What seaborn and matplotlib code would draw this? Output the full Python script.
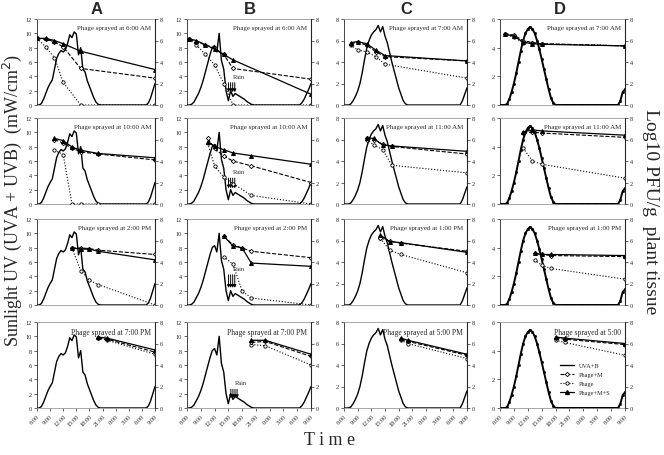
import numpy as np
import seaborn as sns
import matplotlib.pyplot as plt
from matplotlib.lines import Line2D

# Hours since midnight of day 1 (6:00 -> 9:00 next morning), half-hour steps
uv_hours = [6.0, 6.5, 7.0, 7.5, 8.0, 8.5, 9.0, 9.5, 10.0, 10.5, 11.0, 11.5, 12.0, 12.5,
            13.0, 13.5, 14.0, 14.5, 15.0, 15.5, 16.0, 16.5, 17.0, 17.5, 18.0, 18.5, 19.0,
            19.5, 20.0, 20.5, 21.0, 21.5, 22.0, 22.5, 23.0, 23.5, 24.0, 24.5, 25.0, 25.5,
            26.0, 26.5, 27.0, 27.5, 28.0, 28.5, 29.0, 29.5, 30.0, 30.5, 31.0, 31.5, 32.0,
            32.5, 33.0]

# Sunlight UV (mW/cm2) for each column
A_uv = [0, 0, 0.2, 0.8, 1.6, 2.4, 3.0, 3.5, 5.0, 6.5, 7.2, 7.6, 7.4, 7.7, 8.6, 9.8, 9.4,
        10.2, 9.9, 7.0, 8.0, 5.0, 4.6, 3.4, 2.6, 1.8, 1.0, 0.4, 0.1, 0,
        0, 0, 0, 0, 0, 0, 0, 0, 0, 0, 0, 0, 0, 0, 0, 0, 0, 0, 0, 0, 0,
        0.3, 1.0, 2.0, 3.0]
B_uv = [0, 0, 0.1, 0.4, 1.0, 1.6, 2.4, 3.4, 4.6, 5.8, 7.0, 8.0, 8.3, 7.4, 10.0, 6.2, 5.0,
        2.0, 0.6, 2.0, 1.2, 1.6, 1.4, 1.2, 1.0, 0.8, 0.5, 0.3, 0.1, 0,
        0, 0, 0, 0, 0, 0, 0, 0, 0, 0, 0, 0, 0, 0, 0, 0, 0, 0, 0, 0,
        0.3, 0.8, 1.5, 2.2, 3.0]
C_uv = [0, 0, 0, 0.1, 0.4, 0.8, 1.3, 2.0, 3.0, 4.2, 5.3, 6.0, 6.5, 6.8, 7.0, 7.4, 6.8,
        7.3, 6.4, 5.8, 4.9, 4.0, 3.2, 2.4, 1.6, 1.0, 0.4, 0.1, 0,
        0, 0, 0, 0, 0, 0, 0, 0, 0, 0, 0, 0, 0, 0, 0, 0, 0, 0, 0, 0, 0, 0, 0,
        0.4, 1.0, 1.6]
D_uv = [0, 0, 0, 0.05, 0.4, 0.9, 1.5, 2.2, 3.0, 3.8, 4.5, 5.0, 5.3, 5.45, 5.3, 5.0, 4.5,
        3.9, 3.2, 2.5, 1.8, 1.1, 0.5, 0.15, 0,
        0, 0, 0, 0, 0, 0, 0, 0, 0, 0, 0, 0, 0, 0, 0, 0, 0, 0, 0, 0, 0, 0, 0, 0, 0, 0, 0,
        0.3, 0.9, 1.1]

# Phage counts (log10 PFU/g): sampling hours, Phage+M+S, Phage+M, Phage
A1_t = [6, 8, 10, 12, 16, 33]
A1_ms = [6.2, 6.2, 6.0, 5.7, 5.0, 3.3]
A1_m = [6.2, 6.1, 5.9, 5.4, 3.4, 2.5]
A1_p = [6.2, 5.4, 4.4, 2.1, 0.0, 0.0]
A2_t = [10, 12, 14, 16, 20, 33]
A2_ms = [6.1, 5.9, 5.3, 5.0, 4.7, 4.3]
A2_m = [6.0, 5.65, 5.2, 4.85, 4.65, 4.1]
A2_p = [5.0, 4.6, 0.0, 0.0, 0.0, 0.0]
A3_t = [14, 16, 18, 20, 33]
A3_ms = [5.3, 5.2, 5.2, 5.0, 4.2]
A3_m = [5.3, 5.3, 5.25, 5.1, 4.7]
A3_p = [5.3, 3.2, 2.3, 1.9, 0.0]
A4_t = [20, 22, 33]
A4_ms = [6.6, 6.5, 5.4]
A4_m = [6.5, 6.4, 5.2]
A4_p = [6.5, 6.3, 5.0]

B1_t = [6.5, 8, 10, 12, 14, 16, 33]
B1_ms = [6.15, 6.0, 5.6, 5.2, 4.7, 4.2, 1.0]
B1_m = [6.1, 5.9, 5.6, 5.3, 4.7, 3.4, 2.4]
B1_p = [6.1, 5.6, 4.7, 3.75, 2.0, 0.0, 0.0]
B2_t = [10.5, 12, 14, 16, 20, 33]
B2_ms = [5.8, 5.35, 5.05, 4.75, 4.5, 3.7]
B2_m = [6.1, 5.2, 4.45, 4.0, 3.55, 2.0]
B2_p = [5.65, 3.55, 2.5, 1.9, 0.8, 0.0]
B3_t = [14, 16, 18, 20, 33]
B3_ms = [6.4, 5.5, 5.3, 3.9, 3.6]
B3_m = [6.4, 5.6, 5.3, 5.0, 4.4]
B3_p = [4.5, 3.8, 1.3, 0.65, 0.0]
B4_t = [20, 23, 33]
B4_ms = [6.3, 6.3, 5.0]
B4_m = [6.1, 6.2, 4.8]
B4_p = [5.9, 5.8, 4.0]

C1_t = [7.5, 9, 11, 13, 15, 33]
C1_ms = [5.8, 5.9, 5.7, 5.1, 4.6, 4.1]
C1_m = [5.7, 5.85, 5.55, 4.95, 4.5, 4.1]
C1_p = [5.6, 5.1, 4.95, 4.5, 3.8, 2.5]
C2_t = [11, 12.5, 14.5, 16.5, 33]
C2_ms = [6.15, 6.1, 5.5, 5.4, 4.9]
C2_m = [6.1, 5.95, 5.55, 5.35, 4.65]
C2_p = [6.0, 5.5, 5.05, 3.6, 2.9]
C3_t = [14, 16, 18.5, 33]
C3_ms = [6.5, 5.9, 5.8, 4.9]
C3_m = [6.25, 5.95, 5.75, 5.0]
C3_p = [6.2, 5.1, 4.7, 3.0]
C4_t = [18.5, 20, 33]
C4_ms = [6.5, 6.3, 5.0]
C4_m = [6.4, 6.2, 4.9]
C4_p = [6.3, 6.0, 4.6]

D1_t = [7, 9, 11, 13, 15, 33]
D1_ms = [6.6, 6.4, 5.85, 5.7, 5.65, 5.5]
D1_m = [6.65, 6.5, 6.0, 5.8, 5.7, 5.5]
D1_p = [6.6, 6.3, 5.8, 5.75, 5.7, 5.5]
D2_t = [11, 13, 15, 33]
D2_ms = [6.7, 6.9, 6.8, 6.4]
D2_m = [6.6, 6.7, 6.6, 6.2]
D2_p = [5.2, 4.0, 3.7, 2.4]
D3_t = [13.5, 15, 17, 33]
D3_ms = [4.8, 4.7, 4.7, 4.6]
D3_m = [4.8, 4.7, 4.6, 4.5]
D3_p = [4.2, 3.7, 3.4, 2.4]
D4_t = [18, 20, 33]
D4_ms = [6.6, 6.5, 6.0]
D4_m = [6.5, 6.4, 5.9]
D4_p = [6.3, 6.1, 4.9]

spray_labels = {
    'A': ['6:00 AM', '10:00 AM', '2:00 PM', '7:00 PM'],
    'B': ['6:00 AM', '10:00 AM', '2:00 PM', '7:00 PM'],
    'C': ['7:00 AM', '11:00 AM', '1:00 PM', '5:00 PM'],
    'D': ['7:00 AM', '11:00 AM', '1:00 PM', '5:00'],
}
uv_max = {'A': 12, 'B': 12, 'C': 8, 'D': 6}
tick_hours = [6, 9, 12, 15, 18, 21, 24, 27, 30, 33]
tick_labels = ['6:00', '9:00', '12:00', '15:00', '18:00', '21:00', '0:00', '3:00', '6:00', '9:00']

uv = {'A': A_uv, 'B': B_uv, 'C': C_uv, 'D': D_uv}
phage = {
    'A': [(A1_t, A1_ms, A1_m, A1_p), (A2_t, A2_ms, A2_m, A2_p), (A3_t, A3_ms, A3_m, A3_p), (A4_t, A4_ms, A4_m, A4_p)],
    'B': [(B1_t, B1_ms, B1_m, B1_p), (B2_t, B2_ms, B2_m, B2_p), (B3_t, B3_ms, B3_m, B3_p), (B4_t, B4_ms, B4_m, B4_p)],
    'C': [(C1_t, C1_ms, C1_m, C1_p), (C2_t, C2_ms, C2_m, C2_p), (C3_t, C3_ms, C3_m, C3_p), (C4_t, C4_ms, C4_m, C4_p)],
    'D': [(D1_t, D1_ms, D1_m, D1_p), (D2_t, D2_ms, D2_m, D2_p), (D3_t, D3_ms, D3_m, D3_p), (D4_t, D4_ms, D4_m, D4_p)],
}

# rain arrows in column B: (hour of arrows, top, bottom) on the UV scale
rain_B = [(15.5, 3.5, 1.4), (15.5, 4.0, 1.8), (15.5, 4.6, 2.0), (16.0, 3.0, 1.0)]

sns.set_style('white')
serif = ['Liberation Serif', 'DejaVu Serif']
fig = plt.figure(figsize=(6.64, 4.56), dpi=100)

col_left = {'A': 37, 'B': 187, 'C': 344, 'D': 500}
col_width = {'A': 118, 'B': 124, 'C': 123, 'D': 125}
row_bottom = [106, 205, 306, 409]
row_height = 86

ms_style = dict(color='black', lw=0.9, ls='-', marker='^', ms=2.8, mfc='black', mec='black')
m_style = dict(color='black', lw=0.8, ls='--', marker='D', ms=2.2, mfc='white', mec='black', mew=0.6)
p_style = dict(color='black', lw=0.8, ls=':', marker='o', ms=2.4, mfc='white', mec='black', mew=0.6)

for col in ['A', 'B', 'C', 'D']:
    for r in range(4):
        ax = fig.add_axes([col_left[col] / 664, 1 - row_bottom[r] / 456,
                           col_width[col] / 664, row_height / 456])
        top = uv_max[col]
        if col == 'D':
            sns.lineplot(x=uv_hours, y=uv[col], ax=ax, color='black', lw=1.4,
                         marker='s', ms=1.1, mec='black')
        else:
            sns.lineplot(x=uv_hours, y=uv[col], ax=ax, color='black', lw=1.0)
        ax.set_xlim(6, 33)
        ax.set_ylim(0, top)
        ax.set_yticks(range(0, top + 1, 2))
        ax.tick_params(axis='y', labelsize=4.5, length=2, width=0.5, pad=1.5, left=True)
        ax.set_xticks(tick_hours)
        if r == 3:
            ax.set_xticklabels(tick_labels, rotation=45, ha='right', rotation_mode='anchor',
                               fontsize=4.5)
            ax.tick_params(axis='x', length=2, width=0.5, pad=1.5, bottom=True)
        else:
            ax.set_xticklabels([])
            ax.tick_params(axis='x', length=0)
        for lab in ax.get_xticklabels() + ax.get_yticklabels():
            lab.set_family(serif)
        ax.set_xlabel('')
        ax.set_ylabel('')
        for s in ['top', 'bottom']:
            ax.spines[s].set_color('#999999')
            ax.spines[s].set_linewidth(0.6)
        ax.spines['left'].set_linewidth(0.6)

        ax2 = ax.twinx()
        t, ms_v, m_v, p_v = phage[col][r]
        sns.lineplot(x=t, y=p_v, ax=ax2, **p_style)
        sns.lineplot(x=t, y=m_v, ax=ax2, **m_style)
        sns.lineplot(x=t, y=ms_v, ax=ax2, **ms_style)
        ax2.set_ylim(0, 8)
        ax2.set_yticks(range(0, 9, 2))
        ax2.tick_params(axis='y', labelsize=4.5, length=2, width=0.5, pad=1.5, right=True)
        for lab in ax2.get_yticklabels():
            lab.set_family(serif)
        ax2.set_ylabel('')
        ax2.spines['right'].set_linewidth(0.6)
        for s in ['top', 'bottom', 'left']:
            ax2.spines[s].set_visible(False)

        fs = 5.5 if r == 3 else 5
        ax.text(0.97, 0.93, 'Phage sprayed at ' + spray_labels[col][r], transform=ax.transAxes,
                ha='right', va='top', fontsize=fs, family=serif)

        if col == 'B':
            hr, y_top, y_bot = rain_B[r]
            for dx in [-0.45, 0, 0.45, 0.9]:
                ax.annotate('', xy=(hr + dx, y_bot), xytext=(hr + dx, y_top),
                            arrowprops=dict(arrowstyle='-|>', lw=0.7, color='black',
                                            mutation_scale=4))
            ax.text(hr + 0.5, y_top + 0.3, 'Rain', fontsize=4.5, family=serif)

        if col == 'D' and r == 3:
            handles = [
                Line2D([], [], color='black', lw=1.0),
                Line2D([], [], **m_style),
                Line2D([], [], **p_style),
                Line2D([], [], **ms_style),
            ]
            ax.legend(handles, ['UVA+B', 'Phage+M', 'Phage', 'Phage+M+S'], loc='lower right',
                      bbox_to_anchor=(0.93, 0.08), frameon=False, prop={'family': serif, 'size': 4.5},
                      handlelength=2.2, labelspacing=0.6)

for col, xc in zip(['A', 'B', 'C', 'D'], [97, 250, 406, 560]):
    fig.text(xc / 664, 1 - 10 / 456, col, ha='center', va='center', fontsize=12,
             fontweight='bold', family='Liberation Sans')

fig.text(0.018, 0.56, 'Sunlight UV (UVA + UVB)  (mW/cm$^2$)', rotation=90, ha='center',
         va='center', fontsize=13, family=serif)
fig.text(0.979, 0.535, 'Log10 PFU/g  plant tissue', rotation=270, ha='center', va='center',
         fontsize=14, family=serif)
fig.text(0.497, 0.035, 'T i m e', ha='center', va='center', fontsize=13, family=serif)

fig.savefig('out.png', dpi=100)
